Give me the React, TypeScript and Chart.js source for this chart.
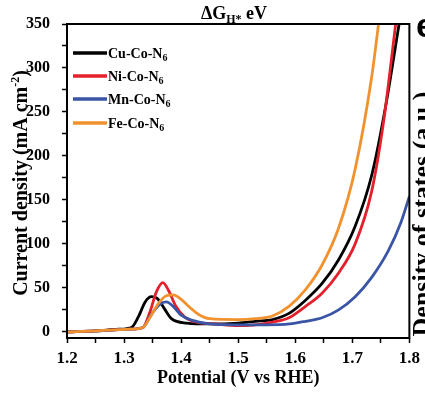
import React, { useEffect, useRef } from "react";
import { Chart, registerables } from "chart.js";

Chart.register(...registerables);

const seriesNames = ["Cu-Co-N6", "Ni-Co-N6", "Mn-Co-N6", "Fe-Co-N6"];
const seriesColors = ["#000000", "#e3202b", "#3a55a5", "#f2922e"];

const cuV = [1.2, 1.25, 1.29, 1.313, 1.325, 1.337, 1.348, 1.358, 1.37, 1.383, 1.41, 1.45, 1.5, 1.53, 1.56, 1.589, 1.618, 1.647, 1.676, 1.705, 1.734, 1.758, 1.782];
const cuJ = [0, 1, 3, 5, 17, 34, 40, 38, 27, 15, 10, 9, 10, 12, 14, 21, 36, 55, 82, 120, 178, 255, 350];

const niV = [1.2, 1.25, 1.31, 1.333, 1.345, 1.357, 1.368, 1.378, 1.39, 1.406, 1.427, 1.46, 1.5, 1.53, 1.56, 1.589, 1.618, 1.647, 1.676, 1.705, 1.734, 1.755, 1.776];
const niJ = [0, 1, 3, 5, 22, 46, 56, 47, 30, 17, 11, 9, 7, 8, 11, 16, 29, 44, 67, 100, 160, 240, 350];

const mnV = [1.2, 1.25, 1.31, 1.333, 1.348, 1.362, 1.374, 1.386, 1.4, 1.42, 1.45, 1.5, 1.55, 1.59, 1.618, 1.647, 1.676, 1.705, 1.734, 1.763, 1.785, 1.8];
const mnJ = [0, 1, 3, 5, 20, 31, 34, 29, 19, 13, 9, 8, 8, 9, 12, 16, 25, 40, 62, 92, 124, 154];

const feV = [1.2, 1.25, 1.31, 1.333, 1.345, 1.36, 1.374, 1.386, 1.4, 1.415, 1.43, 1.45, 1.5, 1.53, 1.56, 1.589, 1.618, 1.647, 1.676, 1.705, 1.734, 1.746];
const feJ = [0, 1, 3, 5, 16, 32, 41, 42, 37, 28, 20, 15, 14, 15, 18, 29, 48, 76, 118, 185, 290, 350];

const potentialTicks = [1.2, 1.25, 1.3, 1.35, 1.4, 1.45, 1.5, 1.55, 1.6, 1.65, 1.7, 1.75, 1.8];
const currentTicks = [0, 25, 50, 75, 100, 125, 150, 175, 200, 225, 250, 275, 300, 325, 350];

const xTitle = "Potential (V vs RHE)";
const yTitleMain = "Current density (mA cm";
const yTitleSup = "-2";
const yTitleEnd = ")";
const topTitleMain = "\u0394G";
const topTitleSub = "H*";
const topTitleEnd = " eV";
const panelLetter = "e";
const rightLabel = "Density of states (a.u.)";

const SERIF = '"Liberation Serif", "Times New Roman", serif';

const allV = [cuV, niV, mnV, feV];
const allJ = [cuJ, niJ, mnJ, feJ];

const decorPlugin = {
  id: "decor",
  afterDraw(chart: any) {
    const ctx = chart.ctx as CanvasRenderingContext2D;
    const a = chart.chartArea;
    ctx.save();
    // frame
    ctx.strokeStyle = "#000";
    ctx.lineWidth = 2;
    ctx.strokeRect(a.left, a.top, a.right - a.left, a.bottom - a.top);

    // legend
    const rowY = [53, 76, 99, 123];
    chart.data.datasets.forEach((ds: any, i: number) => {
      const y = rowY[i];
      ctx.strokeStyle = ds.borderColor;
      ctx.lineWidth = 3.5;
      ctx.beginPath();
      ctx.moveTo(73, y);
      ctx.lineTo(107, y);
      ctx.stroke();
      const m = /^(.*?)(\d+)$/.exec(ds.label);
      const main = m ? m[1] : ds.label;
      const sub = m ? m[2] : "";
      ctx.fillStyle = "#000";
      ctx.textAlign = "left";
      ctx.textBaseline = "alphabetic";
      ctx.font = `bold 14px ${SERIF}`;
      const x0 = 108;
      ctx.fillText(main, x0, y + 5);
      const w = ctx.measureText(main).width;
      ctx.font = `bold 10px ${SERIF}`;
      ctx.fillText(sub, x0 + w, y + 8);
    });

    // x title
    ctx.fillStyle = "#000";
    ctx.font = `bold 18px ${SERIF}`;
    ctx.textAlign = "center";
    ctx.textBaseline = "middle";
    ctx.fillText(xTitle, (a.left + a.right) / 2, 378);

    // y title (rotated)
    ctx.save();
    ctx.translate(27, 183);
    ctx.rotate(-Math.PI / 2);
    ctx.textBaseline = "alphabetic";
    ctx.textAlign = "left";
    ctx.font = `bold 20px ${SERIF}`;
    const wMain = ctx.measureText(yTitleMain).width;
    const wEnd = ctx.measureText(yTitleEnd).width;
    ctx.font = `bold 12px ${SERIF}`;
    const wSup = ctx.measureText(yTitleSup).width;
    const total = wMain + wSup + wEnd;
    let cx = -total / 2;
    ctx.font = `bold 20px ${SERIF}`;
    ctx.fillText(yTitleMain, cx, 0);
    cx += wMain;
    ctx.font = `bold 12px ${SERIF}`;
    ctx.fillText(yTitleSup, cx, -8);
    cx += wSup;
    ctx.font = `bold 20px ${SERIF}`;
    ctx.fillText(yTitleEnd, cx, 0);
    ctx.restore();

    // top title
    ctx.textAlign = "left";
    ctx.textBaseline = "alphabetic";
    ctx.font = `bold 18px ${SERIF}`;
    const t1 = ctx.measureText(topTitleMain).width;
    const t3 = ctx.measureText(topTitleEnd).width;
    ctx.font = `bold 12px ${SERIF}`;
    const t2 = ctx.measureText(topTitleSub).width;
    let tx = 234 - (t1 + t2 + t3) / 2;
    ctx.font = `bold 18px ${SERIF}`;
    ctx.fillText(topTitleMain, tx, 19);
    tx += t1;
    ctx.font = `bold 12px ${SERIF}`;
    ctx.fillText(topTitleSub, tx, 23);
    tx += t2;
    ctx.font = `bold 18px ${SERIF}`;
    ctx.fillText(topTitleEnd, tx, 19);

    // panel letter
    ctx.font = `bold 34px "Liberation Sans", Arial, sans-serif`;
    ctx.fillText(panelLetter, 416, 37);

    // right label (cut by the edge)
    ctx.save();
    ctx.translate(430, 214);
    ctx.rotate(-Math.PI / 2);
    ctx.textAlign = "center";
    ctx.textBaseline = "alphabetic";
    ctx.font = `bold 26px ${SERIF}`;
    ctx.fillText(rightLabel, 0, 0);
    ctx.restore();

    ctx.restore();
  },
};

export default function App() {
  const ref = useRef<HTMLCanvasElement | null>(null);

  useEffect(() => {
    document.body.style.margin = "0";
    const canvas = ref.current;
    if (!canvas) return;
    const datasets = seriesNames.map((name, i) => ({
      label: name,
      data: allV[i].map((v, k) => ({ x: v, y: allJ[i][k] })),
      borderColor: seriesColors[i],
      backgroundColor: seriesColors[i],
      borderWidth: 2.8,
      pointRadius: 0,
      cubicInterpolationMode: "monotone" as const,
      fill: false,
      order: [3, 2, 1, 0][i],
    }));
    const chart = new Chart(canvas, {
      type: "line",
      data: { datasets },
      options: {
        responsive: false,
        animation: false,
        events: [],
        layout: { padding: { top: 24, right: 14, left: 0, bottom: 0 } },
        plugins: {
          legend: { display: false },
          title: { display: false },
          tooltip: { enabled: false },
        },
        scales: {
          x: {
            type: "linear",
            min: 1.2,
            max: 1.8,
            afterBuildTicks: (scale: any) => {
              scale.ticks = potentialTicks.map((v) => ({ value: v }));
            },
            afterFit: (scale: any) => {
              scale.height = 56;
            },
            grid: {
              drawOnChartArea: false,
              drawTicks: true,
              tickLength: 5,
              tickColor: "#000",
              tickWidth: 1.5,
            },
            border: { display: false },
            ticks: {
              autoSkip: false,
              maxRotation: 0,
              padding: 5,
              color: "#000",
              font: { family: SERIF, size: 17, weight: "bold" },
              callback: (value: any) => {
                const v = Number(value);
                return Math.abs(v * 10 - Math.round(v * 10)) < 1e-6 ? v.toFixed(1) : "";
              },
            },
          },
          y: {
            type: "linear",
            min: -7,
            max: 350,
            afterBuildTicks: (scale: any) => {
              scale.ticks = currentTicks.map((v) => ({ value: v }));
            },
            afterFit: (scale: any) => {
              scale.width = 67;
            },
            grid: {
              drawOnChartArea: false,
              drawTicks: true,
              tickLength: 5,
              tickColor: "#000",
              tickWidth: 1.5,
            },
            border: { display: false },
            ticks: {
              autoSkip: false,
              padding: 12,
              color: "#000",
              font: { family: SERIF, size: 16, weight: "bold" },
              callback: (value: any) => {
                const v = Number(value);
                return v % 50 === 0 ? String(v) : "";
              },
            },
          },
        },
      },
      plugins: [decorPlugin],
    });
    return () => chart.destroy();
  }, []);

  return (
    <div style={{ width: 425, height: 394, background: "#fff" }}>
      <canvas ref={ref} width={425} height={394} style={{ display: "block" }} />
    </div>
  );
}
